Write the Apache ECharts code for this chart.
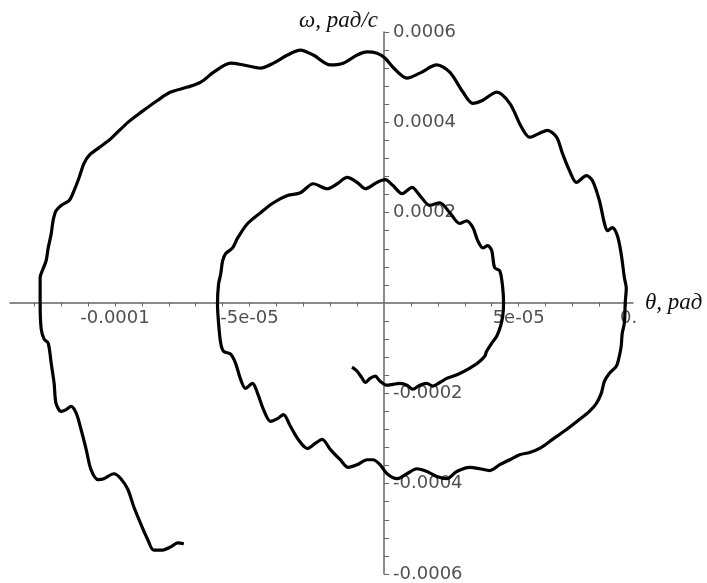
<!DOCTYPE html>
<html>
<head>
<meta charset="utf-8">
<script src="https://cdn.jsdelivr.net/npm/echarts@6/dist/echarts.min.js"></script>
<style>
  html, body { margin: 0; padding: 0; background: #fff; }
  #chart { width: 707px; height: 583px; }
</style>
</head>
<body>
<div id="chart"></div>
<script>
// phase trajectory
// theta in units of 1e-5 rad, omega in units of 1e-4 rad/s
const thetaE5 = [
  -1.19, -1.00, -0.81, -0.70, -0.52, -0.33, -0.15, 0.11, 0.33, 0.59, 0.85, 1.07, 1.33, 1.59, 1.81, 2.07, 2.33, 2.56, 2.81, 3.19,
  3.48, 3.74, 3.81, 4.00, 4.19, 4.33, 4.41, 4.44,
  4.41, 4.30, 4.11, 4.00, 3.85, 3.67, 3.48, 3.30, 3.07, 2.81,
  2.44, 2.07, 1.70, 1.33, 1.04, 0.67, 0.33, 0.04, -0.26, -0.70, -1.00, -1.37, -1.74, -2.11, -2.63, -3.11, -3.59, -4.11, -4.59,
  -5.07, -5.44, -5.63, -5.89, -6.00, -6.07, -6.15, -6.19,
  -6.15, -6.07, -5.96, -5.70, -5.52, -5.33, -5.15, -4.89, -4.70, -4.48, -4.22, -3.96, -3.74, -3.48, -3.19, -2.85, -2.56, -2.30,
  -2.00, -1.63, -1.33, -1.00, -0.63, -0.41, -0.15, 0.11, 0.48, 0.85, 1.22, 1.59, 1.96, 2.33, 2.70, 3.19, 3.56, 3.93, 4.30,
  4.67, 5.04, 5.41, 5.78, 6.26, 6.78, 7.26, 7.63, 7.89, 8.07, 8.19, 8.37, 8.63, 8.74, 8.81, 8.85, 8.93, 8.96,
  9.00, 8.93, 8.81, 8.67, 8.48, 8.30, 8.19, 8.00, 7.74, 7.52, 7.15, 6.89, 6.63, 6.41, 6.07, 5.78, 5.41, 5.11, 4.67, 4.19,
  3.67, 3.30, 2.93,
  2.44, 1.96, 1.33, 0.85, 0.33, 0.04, -0.26, -0.63, -1.00, -1.52, -2.00, -2.63, -3.11, -3.59, -4.11, -4.59, -5.22, -5.70,
  -6.33, -6.81, -7.30, -7.93, -8.41, -9.04, -9.52, -10.15, -10.59, -10.96, -11.15, -11.33, -11.52, -11.70, -12.00, -12.19,
  -12.30, -12.37, -12.48, -12.56, -12.67, -12.78, -12.78,
  -12.74, -12.63, -12.48, -12.37, -12.26, -12.19, -12.00, -11.81, -11.63, -11.44, -11.26, -11.07, -10.89, -10.63, -10.41,
  -10.04, -9.78, -9.52, -9.30, -9.04, -8.78, -8.56, -8.22, -7.93, -7.67, -7.44
];
const omegaE4 = [
  -1.42, -1.51, -1.67, -1.76, -1.67, -1.62, -1.73, -1.82, -1.80, -1.78, -1.82, -1.91, -1.82, -1.78, -1.84, -1.76, -1.67, -1.62, -1.56, -1.44,
  -1.33, -1.18, -1.07, -0.89, -0.73, -0.51, -0.29, 0,
  0.33, 0.71, 0.78, 1.16, 1.27, 1.22, 1.38, 1.67, 1.82, 1.76,
  2.00, 2.22, 2.16, 2.38, 2.56, 2.42, 2.60, 2.73, 2.67, 2.53, 2.67, 2.78, 2.64, 2.53, 2.64, 2.44, 2.38, 2.22, 2.00,
  1.76, 1.44, 1.22, 1.09, 0.93, 0.64, 0.42, -0.02,
  -0.44, -0.89, -1.07, -1.13, -1.33, -1.69, -1.89, -1.78, -2.00, -2.36, -2.62, -2.56, -2.47, -2.73, -3.02, -3.22, -3.11, -3.02,
  -3.24, -3.47, -3.64, -3.58, -3.47, -3.47, -3.58, -3.78, -3.89, -3.78, -3.67, -3.73, -3.84, -3.89, -3.73, -3.64, -3.67, -3.71, -3.58,
  -3.47, -3.36, -3.31, -3.22, -3.02, -2.80, -2.58, -2.40, -2.22, -2.00, -1.73, -1.56, -1.40, -1.18, -0.96, -0.67, -0.44, 0,
  0.33, 0.56, 1.09, 1.49, 1.67, 1.60, 1.76, 2.27, 2.71, 2.82, 2.67, 2.93, 3.31, 3.67, 3.82, 3.76, 3.67, 3.89, 4.42, 4.67,
  4.49, 4.42, 4.67,
  5.11, 5.27, 5.09, 4.98, 5.22, 5.42, 5.53, 5.56, 5.49, 5.31, 5.27, 5.49, 5.60, 5.49, 5.31, 5.20, 5.27, 5.31,
  5.11, 4.89, 4.78, 4.67, 4.49, 4.22, 4.00, 3.64, 3.44, 3.27, 3.09, 2.78, 2.49, 2.27, 2.16, 2.04,
  1.82, 1.53, 1.22, 0.93, 0.76, 0.56, 0,
  -0.58, -0.80, -0.89, -1.33, -1.78, -2.22, -2.40, -2.36, -2.29, -2.44, -2.80, -3.24, -3.69, -3.91, -3.89,
  -3.78, -3.89, -4.13, -4.51, -4.89, -5.24, -5.47, -5.47, -5.40, -5.31, -5.33
];

// ticks and labels
const xTickValues = [-0.00013, -0.00012, -0.00011, -0.0001, -0.00009, -0.00008, -0.00007, -0.00006, -0.00005, -0.00004,
  -0.00003, -0.00002, -0.00001, 0.00001, 0.00002, 0.00003, 0.00004, 0.00005, 0.00006, 0.00007, 0.00008, 0.00009];
const xLabelValues = [-0.0001, -0.00005, 0.00005];
const xLabelTexts = ['-0.0001', '-5e-05', '5e-05'];
const yTickValues = [0.0006, 0.00056, 0.00052, 0.00048, 0.00044, 0.0004, 0.00036, 0.00032, 0.00028, 0.00024, 0.0002,
  0.00016, 0.00012, 0.00008, 0.00004, -0.00004, -0.00008, -0.00012, -0.00016, -0.0002, -0.00024, -0.00028, -0.00032,
  -0.00036, -0.0004, -0.00044, -0.00048, -0.00052, -0.00056, -0.0006];
const yLabelValues = [0.0006, 0.0004, 0.0002, -0.0002, -0.0004, -0.0006];
const yLabelTexts = ['0.0006', '0.0004', '0.0002', '-0.0002', '-0.0004', '-0.0006'];

const pickLabel = (values, texts) => (v) => {
  const i = values.findIndex((x) => Math.abs(x - v) < 1e-9);
  return i >= 0 ? texts[i] : '';
};

const points = thetaE5.map((t, i) => [t * 1e-5, omegaE4[i] * 1e-4]);

// plot box and ranges
const W = 707, H = 583;
const grid = { left: 10, right: 74, top: 32, bottom: 8 };
const xMin = -0.000139, xMax = 0.0000925;
const yMin = -0.0006, yMax = 0.0006;
// axes drawn through the origin: shift them by offset so labels follow too
const xZeroPx = (W - grid.left - grid.right) * (0 - xMin) / (xMax - xMin);
const yZeroPx = (H - grid.top - grid.bottom) * (0 - yMin) / (yMax - yMin);

const axisColor = '#666';
const labelStyle = { color: '#505050', fontSize: 18, fontFamily: 'DejaVu Sans' };
const nameStyle = { color: '#111', fontSize: 23, fontStyle: 'italic', fontFamily: 'Liberation Serif' };

const myChart = echarts.init(document.getElementById('chart'));
const option = {
  animation: false,
  backgroundColor: '#fff',
  grid: grid,
  xAxis: {
    type: 'value',
    min: xMin,
    max: xMax,
    offset: -yZeroPx,
    name: 'θ, рад',
    nameLocation: 'end',
    nameGap: 12,
    nameTextStyle: Object.assign({}, nameStyle, { padding: [12, 0, 0, 0] }),
    splitLine: { show: false },
    axisLine: { show: true, onZero: false, lineStyle: { color: axisColor, width: 1.5 } },
    axisTick: { show: true, length: 4, customValues: xTickValues, lineStyle: { color: axisColor } },
    axisLabel: Object.assign({}, labelStyle, {
      margin: 7,
      customValues: xLabelValues,
      formatter: pickLabel(xLabelValues, xLabelTexts)
    })
  },
  yAxis: {
    type: 'value',
    min: yMin,
    max: yMax,
    offset: -xZeroPx,
    name: 'ω, рад/с',
    nameLocation: 'end',
    nameGap: 0,
    nameTextStyle: Object.assign({}, nameStyle, { align: 'right', padding: [0, 6, 0, 0] }),
    splitLine: { show: false },
    axisLine: { show: true, onZero: false, lineStyle: { color: axisColor, width: 1.5 } },
    axisTick: { show: true, inside: true, length: 5, customValues: yTickValues, lineStyle: { color: axisColor } },
    axisLabel: Object.assign({}, labelStyle, {
      inside: true,
      margin: 9,
      customValues: yLabelValues,
      formatter: pickLabel(yLabelValues, yLabelTexts)
    })
  },
  graphic: [
    { type: 'text', left: 620, top: 309, style: { text: '0.', fill: '#505050', fontSize: 18, fontFamily: 'DejaVu Sans' } }
  ],
  series: [
    {
      type: 'line',
      data: points,
      showSymbol: false,
      smooth: 0.3,
      lineStyle: { color: '#000', width: 3.2 },
      emphasis: { disabled: true }
    }
  ]
};
myChart.setOption(option);
</script>
</body>
</html>
